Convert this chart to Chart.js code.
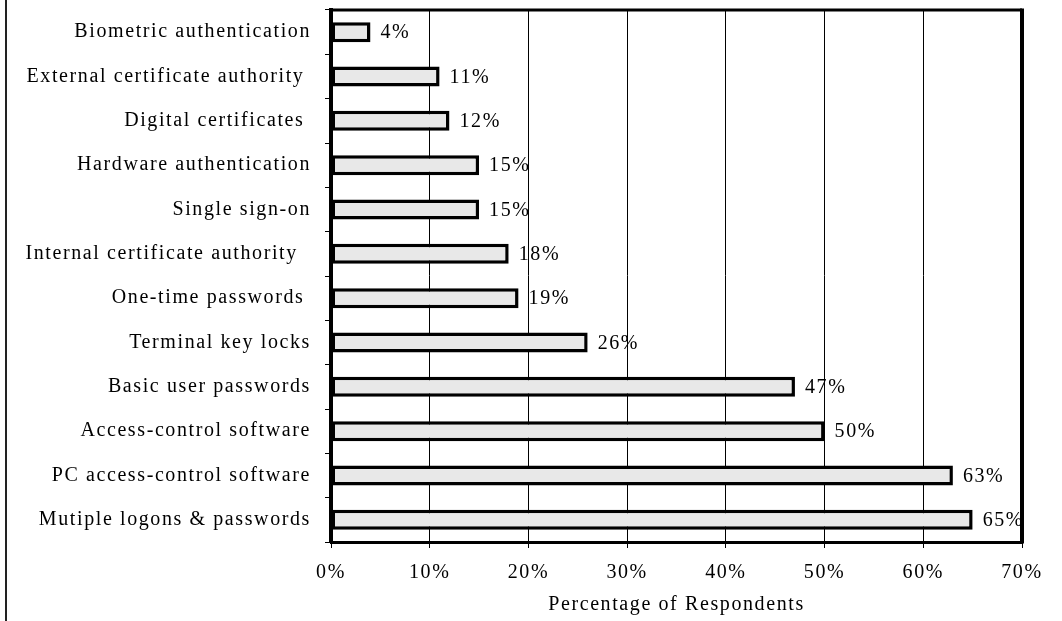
<!DOCTYPE html>
<html>
<head>
<meta charset="utf-8">
<script src="https://cdn.jsdelivr.net/npm/chart.js@4/dist/chart.umd.min.js"></script>
<style>
  html, body { margin: 0; padding: 0; background: #fff; }
  #wrap { width: 1062px; height: 621px; }
</style>
</head>
<body>
<div id="wrap"><canvas id="chart" width="1062" height="621"></canvas></div>
<script>
const categories = [
  "Biometric authentication",
  "External certificate authority ",
  "Digital certificates ",
  "Hardware authentication",
  "Single sign-on",
  "Internal certificate authority  ",
  "One-time passwords ",
  "Terminal key locks",
  "Basic user passwords",
  "Access-control software",
  "PC access-control software",
  "Mutiple logons & passwords"
];
const percentValues = [4, 11, 12, 15, 15, 18, 19, 26, 47, 50, 63, 65];
const xTicks = [0, 10, 20, 30, 40, 50, 60, 70];

const FONT = "'Liberation Serif', 'Times New Roman', serif";
const FONT_SIZE = 20;
const SPACING = "1.6px";

// wider letter spacing for every text drawn on the canvas
const spacingPlugin = {
  id: "spacing",
  beforeLayout(chart) { chart.ctx.letterSpacing = SPACING; },
  beforeDraw(chart) { chart.ctx.letterSpacing = SPACING; }
};

// outer rule on the left and the heavy frame round the plot
const framePlugin = {
  id: "frame",
  beforeDraw(chart) {
    const ctx = chart.ctx;
    ctx.save();
    ctx.strokeStyle = "#222";
    ctx.lineWidth = 2;
    ctx.beginPath();
    ctx.moveTo(6, 0);
    ctx.lineTo(6, chart.height);
    ctx.stroke();
    ctx.restore();
  },
  afterDraw(chart) {
    const { left, right, top, bottom } = chart.chartArea;
    const ctx = chart.ctx;
    ctx.save();
    ctx.strokeStyle = "#000";
    ctx.lineWidth = 3;
    ctx.beginPath();
    ctx.moveTo(left, top);
    ctx.lineTo(right, top);
    ctx.stroke();
    ctx.lineWidth = 4;
    ctx.beginPath();
    ctx.moveTo(right, top - 1.5);
    ctx.lineTo(right, bottom + 1.5);
    ctx.stroke();
    ctx.restore();
  }
};

// percentage printed just past the end of each bar
const valueLabels = {
  id: "valueLabels",
  afterDatasetsDraw(chart) {
    const ctx = chart.ctx;
    const meta = chart.getDatasetMeta(0);
    ctx.save();
    ctx.letterSpacing = SPACING;
    ctx.font = FONT_SIZE + "px " + FONT;
    ctx.fillStyle = "#000";
    ctx.textAlign = "left";
    ctx.textBaseline = "middle";
    meta.data.forEach((bar, i) => {
      ctx.fillText(percentValues[i] + "%", bar.x + 10, bar.y + 1);
    });
    ctx.restore();
  }
};

new Chart(document.getElementById("chart"), {
  type: "bar",
  data: {
    labels: categories,
    datasets: [{
      data: percentValues,
      backgroundColor: "#e8e8e8",
      borderColor: "#000",
      borderWidth: 3.5,
      borderSkipped: false,
      barPercentage: 0.45,
      categoryPercentage: 1
    }]
  },
  options: {
    indexAxis: "y",
    responsive: false,
    animation: false,
    layout: { padding: { top: 10, right: 40, bottom: 0, left: 0 } },
    plugins: {
      legend: { display: false },
      tooltip: { enabled: false }
    },
    scales: {
      x: {
        min: 0,
        max: 70,
        afterBuildTicks(scale) {
          scale.ticks = xTicks.map(v => ({ value: v }));
        },
        afterFit(scale) { scale.height = 79; },
        grid: {
          color: "#000",
          lineWidth: 1,
          tickLength: 6,
          drawTicks: true
        },
        border: { color: "#000", width: 3 },
        ticks: {
          color: "#000",
          font: { family: FONT, size: FONT_SIZE },
          padding: 13,
          callback: v => v + "%"
        },
        title: {
          display: true,
          text: "Percentage of Respondents",
          color: "#000",
          font: { family: FONT, size: FONT_SIZE },
          padding: { top: 4, bottom: 4 }
        }
      },
      y: {
        afterFit(scale) {
          scale.width = 331;
          scale.paddingTop = 0;
          scale.paddingBottom = 0;
        },
        grid: {
          offset: true,
          drawOnChartArea: false,
          drawTicks: true,
          tickLength: 6,
          color: "#000",
          lineWidth: 1
        },
        border: { color: "#000", width: 4 },
        ticks: {
          color: "#000",
          font: { family: FONT, size: FONT_SIZE },
          padding: 14
        }
      }
    }
  },
  plugins: [spacingPlugin, framePlugin, valueLabels]
});
</script>
</body>
</html>
